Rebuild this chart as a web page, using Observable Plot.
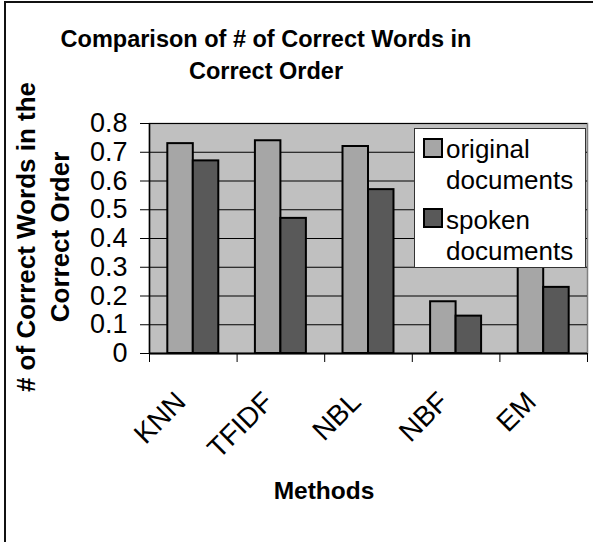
<!DOCTYPE html>
<html>
<head>
<meta charset="utf-8">
<script src="https://cdn.jsdelivr.net/npm/d3@7"></script>
<script src="https://cdn.jsdelivr.net/npm/@observablehq/plot@0.6"></script>
<style>
  html, body { margin: 0; padding: 0; background: #fff; }
  body { font-family: "Liberation Sans", Arial, sans-serif; color: #000; }
  #wrap { position: relative; width: 593px; height: 542px; overflow: hidden; }
  #border { position: absolute; left: 4px; top: 1px; width: 700px; height: 700px;
            border-left: 2px solid #111; border-top: 2px solid #111; }
  #chart { position: absolute; left: 0; top: 0; }
  #title { position: absolute; left: 0; top: 23px; width: 532px; text-align: center;
           font-weight: bold; font-size: 23.5px; line-height: 32px; }
  #ylabel { position: absolute; left: -157px; top: 203px; width: 400px; height: 68px;
            text-align: center; font-weight: bold; font-size: 26px; line-height: 34px;
            transform: rotate(-90deg); transform-origin: 50% 50%; }
  #xlabel { position: absolute; left: 224px; top: 476px; width: 200px; text-align: center;
            font-weight: bold; font-size: 24.5px; line-height: 30px; }
  #legend { position: absolute; left: 414px; top: 128px; width: 170px; height: 138px;
            background: #fff; border: 1px solid #333; }
  .sw { position: absolute; left: 8px; width: 16px; height: 16px; border: 2px solid #000; }
  .lab { position: absolute; left: 31px; width: 138px; font-size: 26px; line-height: 30.5px; }
</style>
</head>
<body>
<div id="wrap">
  <div id="chart"></div>
  <div id="border"></div>
  <div id="title"></div>
  <div id="ylabel"></div>
  <div id="xlabel"></div>
  <div id="legend"></div>
</div>
<script>
// ---- data ----
const methods = ["KNN", "TFIDF", "NBL", "NBF", "EM"];
const seriesNames = ["original documents", "spoken documents"];
const seriesColors = ["#a6a6a6", "#595959"];
const original = [0.73, 0.74, 0.72, 0.18, 0.40];
const spoken = [0.67, 0.47, 0.57, 0.13, 0.23];
const yTicks = [0, 0.1, 0.2, 0.3, 0.4, 0.5, 0.6, 0.7, 0.8];
const yTickLabels = ["0", "0.1", "0.2", "0.3", "0.4", "0.5", "0.6", "0.7", "0.8"];
const titleLines = ["Comparison of # of Correct Words in", "Correct Order"];
const yLabelLines = ["# of Correct Words in the", "Correct Order"];
const xLabel = "Methods";

const rows = methods.map((m, i) => ({method: m, original: original[i], spoken: spoken[i]}));

// ---- layout ----
const W = 593, H = 542;
const mL = 149, mR = 6, mT = 123, mB = 189;
const pad = 0.418;
const step = (W - mL - mR) / methods.length;
const bw = step * (1 - pad);

const chart = Plot.plot({
  width: W,
  height: H,
  marginLeft: mL,
  marginRight: mR,
  marginTop: mT,
  marginBottom: mB,
  style: {fontFamily: "'Liberation Sans', Arial, sans-serif", background: "transparent", color: "#000"},
  x: {domain: methods, paddingInner: pad, paddingOuter: pad / 2, round: false, axis: null},
  y: {domain: [0, 0.8]},
  marks: [
    Plot.frame({fill: "#c0c0c0", stroke: "#808080", strokeWidth: 1.5}),
    Plot.ruleY(yTicks, {stroke: "#000", strokeWidth: 1}),
    Plot.barY(rows, {x: "method", y: "original", fill: seriesColors[0], stroke: "#000", strokeWidth: 2, insetRight: bw / 2}),
    Plot.barY(rows, {x: "method", y: "spoken", fill: seriesColors[1], stroke: "#000", strokeWidth: 2, insetLeft: bw / 2}),
    Plot.ruleX([methods[0]], {x: d => d, dx: -step / 2, stroke: "#000", strokeWidth: 1.5}),
    Plot.ruleY([0], {stroke: "#000", strokeWidth: 2}),
    Plot.ruleX(methods, {x: d => d, y1: 0, y2: 0, insetBottom: -9, dx: -step / 2, stroke: "#000", strokeWidth: 1}),
    Plot.ruleX([methods[methods.length - 1]], {x: d => d, y1: 0, y2: 0, insetBottom: -9, dx: step / 2, stroke: "#000", strokeWidth: 1}),
    Plot.axisY({ticks: yTicks, tickFormat: d => yTickLabels[yTicks.indexOf(d)], tickSize: 9, tickPadding: 13, fontSize: 27, label: null}),
    Plot.text(methods, {x: d => d, y: 0, text: d => d, rotate: -45, textAnchor: "end", lineAnchor: "top", dx: -20, dy: 36, fontSize: 28})
  ]
});
document.getElementById("chart").appendChild(chart);

document.getElementById("title").innerHTML = titleLines.join("<br>");
document.getElementById("ylabel").innerHTML = yLabelLines.join("<br>");
document.getElementById("xlabel").textContent = xLabel;

const legend = document.getElementById("legend");
const swTops = [9, 79];
const labTops = [5, 76];
seriesNames.forEach((name, i) => {
  const sw = document.createElement("div");
  sw.className = "sw";
  sw.style.top = swTops[i] + "px";
  sw.style.background = seriesColors[i];
  legend.appendChild(sw);
  const lab = document.createElement("div");
  lab.className = "lab";
  lab.style.top = labTops[i] + "px";
  lab.innerHTML = name.replace(" ", "<br>");
  legend.appendChild(lab);
});
</script>
</body>
</html>
